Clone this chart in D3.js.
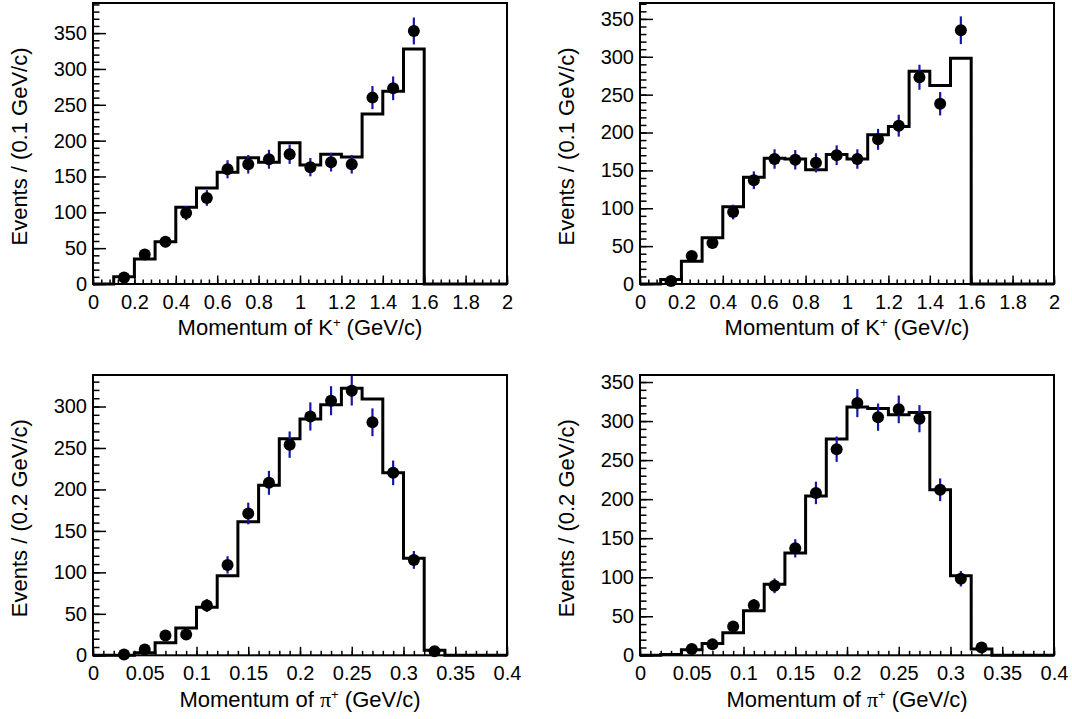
<!DOCTYPE html>
<html>
<head>
<meta charset="utf-8">
<script src="https://cdn.jsdelivr.net/npm/d3@7"></script>
<style>
  body { margin: 0; background: #fff; }
  svg text { font-family: "Liberation Sans", Arial, Helvetica, sans-serif; fill: #000; }
</style>
</head>
<body>
<svg id="chart" width="1072" height="719"></svg>
<script>
// ---- Bin lower edges ----
const kaonBins = [0.0,0.1,0.2,0.3,0.4,0.5,0.6,0.7,0.8,0.9,1.0,1.1,1.2,1.3,1.4,1.5,1.6,1.7,1.8,1.9];
const pionBins = [0.00,0.02,0.04,0.06,0.08,0.10,0.12,0.14,0.16,0.18,0.20,0.22,0.24,0.26,0.28,0.30,0.32,0.34,0.36,0.38];

// ---- K+ momentum: simulated histogram and data, two samples ----
const kaonMcA   = [0,10,35,59,107,134,156,176,170,197,166,181,177,237,269,328,0,0,0,0];
const kaonDataA = [null,9,41,59,99,120,160,167,174,181,163,170,167,260,273,353,null,null,null,null];
const kaonMcB   = [0,6,30,61,102,141,166,165,151,171,165,197,208,281,262,298,0,0,0,0];
const kaonDataB = [null,4,37,54,95,137,165,164,160,170,165,191,209,273,238,335,null,null,null,null];

// ---- pi+ momentum: simulated histogram and data, two samples ----
const pionMcA   = [0,0,3,15,33,58,96,161,205,261,285,302,322,309,220,117,6,0,0,0];
const pionDataA = [null,1,7,24,25,60,109,171,208,254,288,307,319,281,220,115,5,null,null,null];
const pionMcB   = [0,1,7,15,29,57,91,131,204,277,318,316,308,311,212,102,8,0,0,0];
const pionDataB = [null,null,8,14,37,64,89,137,208,264,323,305,315,303,212,98,10,null,null,null];

// ---- Axis tick labels ----
const kaonTicks = [0,0.2,0.4,0.6,0.8,1,1.2,1.4,1.6,1.8,2];
const kaonTickLabels = ["0","0.2","0.4","0.6","0.8","1","1.2","1.4","1.6","1.8","2"];
const pionTicks = [0,0.05,0.1,0.15,0.2,0.25,0.3,0.35,0.4];
const pionTickLabels = ["0","0.05","0.1","0.15","0.2","0.25","0.3","0.35","0.4"];
const yTicks = [0,50,100,150,200,250,300,350];

const panels = [
  { left: 93,  top: 3,   bottom: 284,   xMax: 2,   yMax: 392, binW: 0.1,  bins: kaonBins, mc: kaonMcA, data: kaonDataA,
    ticks: kaonTicks, labels: kaonTickLabels, minorStep: 0.04, particle: "K", yTitle: "Events / (0.1 GeV/c)" },
  { left: 640, top: 3,   bottom: 284,   xMax: 2,   yMax: 371, binW: 0.1,  bins: kaonBins, mc: kaonMcB, data: kaonDataB,
    ticks: kaonTicks, labels: kaonTickLabels, minorStep: 0.04, particle: "K", yTitle: "Events / (0.1 GeV/c)" },
  { left: 93,  top: 375, bottom: 655.3, xMax: 0.4, yMax: 338, binW: 0.02, bins: pionBins, mc: pionMcA, data: pionDataA,
    ticks: pionTicks, labels: pionTickLabels, minorStep: 0.01, particle: "π", yTitle: "Events / (0.2 GeV/c)" },
  { left: 640, top: 375, bottom: 655.3, xMax: 0.4, yMax: 359, binW: 0.02, bins: pionBins, mc: pionMcB, data: pionDataB,
    ticks: pionTicks, labels: pionTickLabels, minorStep: 0.01, particle: "π", yTitle: "Events / (0.2 GeV/c)" }
];

const W = 414;
const errColor = "#1616a8";
const svg = d3.select("#chart");

panels.forEach(p => {
  const H = p.bottom - p.top;
  const g = svg.append("g").attr("transform", `translate(${p.left},${p.top})`);
  const x = d3.scaleLinear().domain([0, p.xMax]).range([0, W]);
  const y = d3.scaleLinear().domain([0, p.yMax]).range([H, 0]);

  // Simulated histogram as a step outline
  const steps = [];
  p.bins.forEach((lo, i) => {
    steps.push([lo, p.mc[i]]);
    steps.push([lo + p.binW, p.mc[i]]);
  });
  g.append("path")
    .attr("d", d3.line().x(d => x(d[0])).y(d => y(d[1]))(steps))
    .attr("fill", "none").attr("stroke", "#000").attr("stroke-width", 3)
    .attr("stroke-linejoin", "miter");

  // Data points with Poisson uncertainties
  const pts = p.bins.map((lo, i) => ({ c: lo + p.binW / 2, v: p.data[i] })).filter(d => d.v !== null);
  g.selectAll(".err").data(pts).enter().append("line")
    .attr("x1", d => x(d.c)).attr("x2", d => x(d.c))
    .attr("y1", d => y(d.v + Math.sqrt(d.v))).attr("y2", d => y(Math.max(0, d.v - Math.sqrt(d.v))))
    .attr("stroke", errColor).attr("stroke-width", 2.2);
  g.selectAll(".pt").data(pts).enter().append("circle")
    .attr("cx", d => x(d.c)).attr("cy", d => y(d.v)).attr("r", 6).attr("fill", "#000");

  // X axis: minor then major ticks, drawn inward
  const minorX = d3.range(0, p.xMax + 1e-9, p.minorStep);
  g.append("g").attr("transform", `translate(0,${H})`)
    .call(d3.axisBottom(x).tickValues(minorX).tickSizeInner(-4.5).tickSizeOuter(0).tickFormat(""))
    .call(a => a.select(".domain").remove())
    .call(a => a.selectAll("line").attr("stroke-width", 1.5));
  g.append("g").attr("transform", `translate(0,${H})`)
    .call(d3.axisBottom(x).tickValues(p.ticks).tickSizeInner(-8.5).tickSizeOuter(0)
      .tickPadding(10.5).tickFormat((d, i) => p.labels[i]))
    .call(a => a.select(".domain").remove())
    .call(a => a.selectAll("line").attr("stroke-width", 1.5))
    .call(a => a.selectAll("text").attr("font-size", 20).attr("fill", "#000"));

  // Y axis: minor ticks every 10, major every 50
  const minorY = d3.range(0, p.yMax, 10);
  g.append("g")
    .call(d3.axisLeft(y).tickValues(minorY).tickSizeInner(-6.5).tickSizeOuter(0).tickFormat(""))
    .call(a => a.select(".domain").remove())
    .call(a => a.selectAll("line").attr("stroke-width", 1.5));
  g.append("g")
    .call(d3.axisLeft(y).tickValues(yTicks.filter(t => t <= p.yMax)).tickSizeInner(-13).tickSizeOuter(0)
      .tickPadding(6).tickFormat(d3.format("d")))
    .call(a => a.select(".domain").remove())
    .call(a => a.selectAll("line").attr("stroke-width", 1.5))
    .call(a => a.selectAll("text").attr("font-size", 20).attr("fill", "#000"));

  // Frame
  g.append("rect").attr("width", W).attr("height", H)
    .attr("fill", "none").attr("stroke", "#000").attr("stroke-width", 2);

  // X title
  const xt = g.append("text").attr("x", W / 2).attr("y", H + 51.4)
    .attr("text-anchor", "middle").attr("font-size", 22);
  xt.append("tspan").text("Momentum of ");
  const part = xt.append("tspan").text(p.particle);
  if (p.particle === "π") part.style("font-family", "'Liberation Serif', 'DejaVu Serif', serif");
  xt.append("tspan").attr("dy", -8).attr("font-size", 13).text("+");
  xt.append("tspan").attr("dy", 8).text(" (GeV/c)");

  // Y title
  g.append("text")
    .attr("transform", `translate(-66,${H / 2 + 3}) rotate(-90)`)
    .attr("text-anchor", "middle").attr("font-size", 22)
    .text(p.yTitle);
});
</script>
</body>
</html>
